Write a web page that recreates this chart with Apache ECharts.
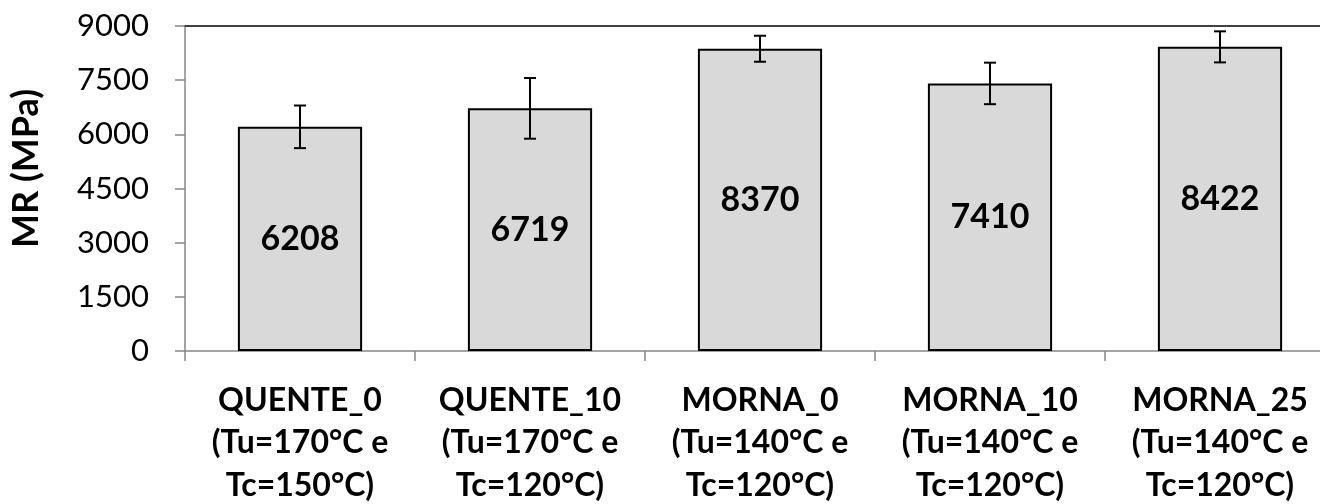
<!DOCTYPE html>
<html>
<head>
<meta charset="utf-8">
<script src="https://cdn.jsdelivr.net/npm/echarts@6/dist/echarts.min.js"></script>
<style>
html,body{margin:0;padding:0;background:#fff;}
#chart{width:1320px;height:504px;}
</style>
</head>
<body>
<div id="chart"></div>
<script>
const categories = [
  'QUENTE_0\n(Tu=170°C e\nTc=150°C)',
  'QUENTE_10\n(Tu=170°C e\nTc=120°C)',
  'MORNA_0\n(Tu=140°C e\nTc=120°C)',
  'MORNA_10\n(Tu=140°C e\nTc=120°C)',
  'MORNA_25\n(Tu=140°C e\nTc=120°C)'
];
const values = [6208, 6719, 8370, 7410, 8422];
const errors = [590, 840, 360, 575, 430];
const yTicks = [0, 1500, 3000, 4500, 6000, 7500, 9000];

const errData = values.map((v, i) => [i, v - errors[i], v + errors[i]]);

const chart = echarts.init(document.getElementById('chart'), null, {renderer: 'canvas'});
const FONT = 'Lato';
chart.setOption({
  animation: false,
  backgroundColor: '#ffffff',
  grid: {left: 185, right: -15, top: 26, bottom: 153, containLabel: false, outerBoundsMode: 'none'},
  xAxis: [{
    type: 'category',
    data: categories,
    position: 'bottom',
    axisLine: {show: true, lineStyle: {color: '#868686', width: 1.5}},
    axisTick: {show: true, length: 10, lineStyle: {color: '#868686', width: 1.5}},
    axisLabel: {
      interval: 0, margin: 28, color: '#000', fontFamily: FONT, fontWeight: 'bold',
      fontSize: 32, lineHeight: 42.5
    },
    splitLine: {show: false}
  }, {
    type: 'category',
    data: categories,
    position: 'top',
    axisLine: {show: true, lineStyle: {color: '#404040', width: 2}},
    axisTick: {show: false},
    axisLabel: {show: false}
  }],
  yAxis: {
    type: 'value',
    min: yTicks[0], max: yTicks[yTicks.length - 1], interval: 1500,
    name: 'MR (MPa)',
    nameLocation: 'middle',
    nameGap: 141,
    nameRotate: 90,
    nameTextStyle: {color: '#000', fontFamily: FONT, fontWeight: 'bold', fontSize: 36, padding: [0, 0, 0, 40]},
    axisLine: {show: true, lineStyle: {color: '#868686', width: 1.5}},
    axisTick: {show: true, length: 10, lineStyle: {color: '#868686', width: 1.5}},
    axisLabel: {color: '#000', fontFamily: FONT, fontSize: 31, margin: 36, formatter: v => String(v)},
    splitLine: {show: false}
  },
  series: [{
    type: 'bar',
    data: values,
    barWidth: '54%',
    itemStyle: {color: '#d9d9d9', borderColor: '#000', borderWidth: 2},
    label: {
      show: true, position: 'inside', color: '#000', fontFamily: FONT,
      fontWeight: 'bold', fontSize: 34
    },
    z: 2
  }, {
    type: 'custom',
    data: errData,
    z: 5,
    renderItem: function (params, api) {
      const x = api.value(0);
      const lo = api.coord([x, api.value(1)]);
      const hi = api.coord([x, api.value(2)]);
      const hw = 6;
      const style = {stroke: '#000', lineWidth: 2};
      return {
        type: 'group',
        children: [
          {type: 'line', shape: {x1: lo[0], y1: lo[1], x2: hi[0], y2: hi[1]}, style: style},
          {type: 'line', shape: {x1: hi[0] - hw, y1: hi[1], x2: hi[0] + hw, y2: hi[1]}, style: style},
          {type: 'line', shape: {x1: lo[0] - hw, y1: lo[1], x2: lo[0] + hw, y2: lo[1]}, style: style}
        ]
      };
    }
  }]
});
</script>
</body>
</html>
